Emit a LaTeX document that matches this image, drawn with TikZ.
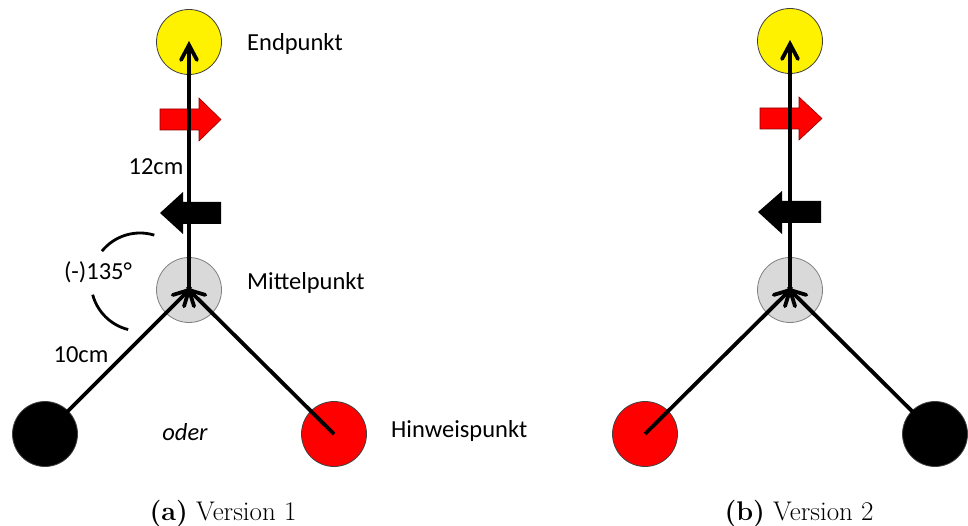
\documentclass[tikz,border=0pt]{standalone}
\usepackage{fontspec}
\newfontfamily\calib{Carlito}
\usetikzlibrary{calc}
\definecolor{grayfill}{HTML}{D9D9D9}
\definecolor{darkred}{HTML}{8B0000}
\tikzset{
  pt/.style={circle, minimum size=65pt, inner sep=0pt, draw=black!75, line width=0.8pt},
  conn/.style={line width=3.8pt},
  barb/.style={line width=3.8pt, line cap=round, line join=miter},
  lbl/.style={font=\calib\fontsize{24.5}{28}\selectfont, inner sep=0pt},
  captext/.style={font=\fontsize{27}{30}\selectfont, inner sep=0pt},
  redarr/.style={fill=red, draw=darkred, line width=0.6pt},
  blkarr/.style={fill=black},
  anglearc/.style={line width=2.8pt},
}
% #1 = tip coordinate, #2 = start coordinate of the connector
\newcommand{\barbhead}[2]{%
  \draw[barb] ($(#1)!17pt!28:(#2)$) -- (#1) -- ($(#1)!17pt!-28:(#2)$);}
\begin{document}
\begin{tikzpicture}[x=1pt,y=-1pt]
\useasboundingbox (0,0) rectangle (968,526);
% ---------- Version 1 ----------
\begin{scope}
\node[pt, fill=yellow] (end1) at (189,42) {};
\node[pt, fill=grayfill, draw=black!50] (mid1) at (189,290) {};
\node[pt, fill=black] (blk1) at (45,434) {};
\node[pt, fill=red] (red1) at (334,434) {};
\path[redarr] (160,109) -- (199,109) -- (199,98) -- (221,119.5) -- (199,141) -- (199,130) -- (160,130) -- cycle;
\path[blkarr] (221,202) -- (183,202) -- (183,192) -- (160,213) -- (183,234) -- (183,224) -- (221,224) -- cycle;
\coordinate (mp1) at (189,290);
\coordinate (ep1) at (189,45);
\draw[conn] (mp1) -- (ep1);
\draw[conn] (blk1.center) -- (mp1);
\draw[conn] (red1.center) -- (mp1);
\barbhead{ep1}{mp1}
\barbhead{mp1}{blk1.center}
\barbhead{mp1}{red1.center}
\draw[anglearc] (140,282) ++(-73:49) arc[start angle=-73, end angle=-141, radius=49];
\draw[anglearc] (140,282) ++(-195:49) arc[start angle=-195, end angle=-256, radius=49];
\node[lbl] (t12) at (156,167) {12cm};
\node[lbl] (t10) at (81,355) {10cm};
\node[lbl] (tang) at (98,272) {(-)135°};
\node[lbl] (toder) at (185,432) {\itshape oder};
\node[lbl, anchor=west] (tend) at (247,44) {Endpunkt};
\node[lbl, anchor=west] (tmid) at (247,283) {Mittelpunkt};
\node[lbl, anchor=west] (thin) at (391,431) {Hinweispunkt};
\node[captext, anchor=base] (cap1) at (223,520) {\textbf{(a)} Version 1};
\end{scope}
% ---------- Version 2 ----------
\begin{scope}
\node[pt, fill=yellow] (end2) at (790,41) {};
\node[pt, fill=grayfill, draw=black!50] (mid2) at (790,290) {};
\node[pt, fill=red] (red2) at (645,434) {};
\node[pt, fill=black] (blk2) at (935,434) {};
\path[redarr] (760,108) -- (799,108) -- (799,97) -- (822,118.5) -- (799,140) -- (799,129) -- (760,129) -- cycle;
\path[blkarr] (821,201) -- (782,201) -- (782,191) -- (758,212) -- (782,234) -- (782,223) -- (821,223) -- cycle;
\coordinate (mp2) at (790,290);
\coordinate (ep2) at (790,44);
\draw[conn] (mp2) -- (ep2);
\draw[conn] (red2.center) -- (mp2);
\draw[conn] (blk2.center) -- (mp2);
\barbhead{ep2}{mp2}
\barbhead{mp2}{red2.center}
\barbhead{mp2}{blk2.center}
\node[captext, anchor=base] (cap2) at (799,520) {\textbf{(b)} Version 2};
\end{scope}
\end{tikzpicture}
\end{document}
